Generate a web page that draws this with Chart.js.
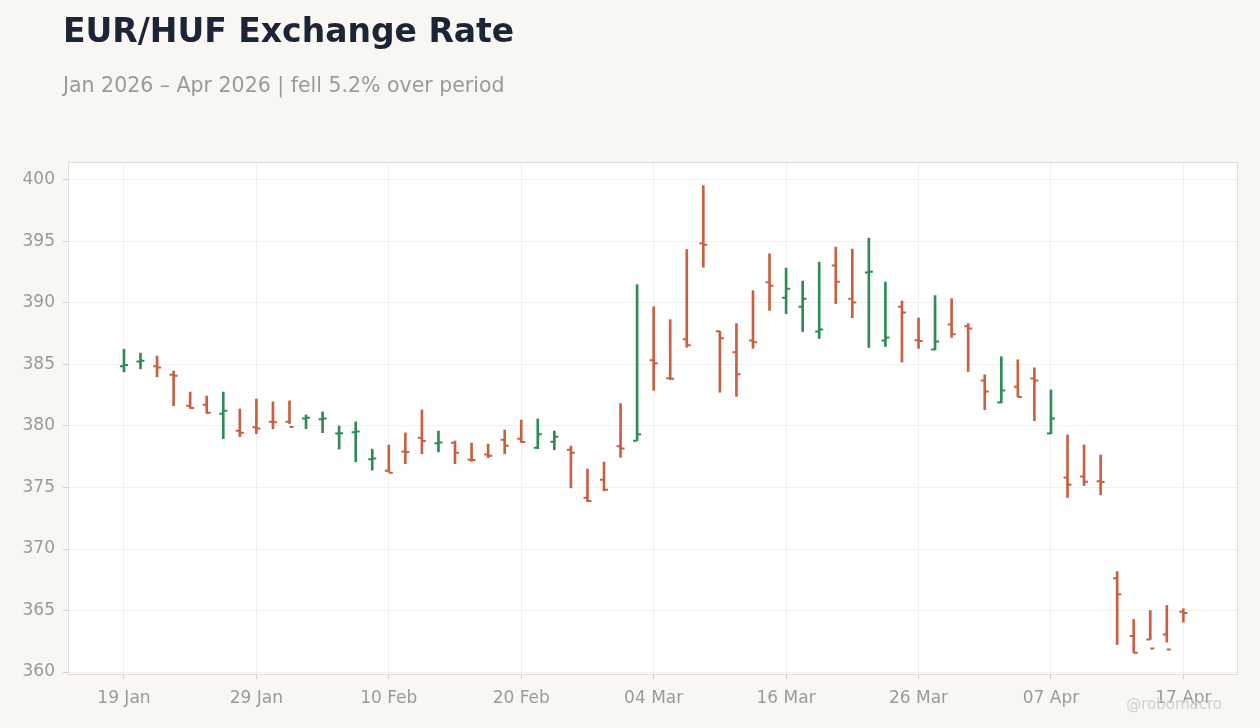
<!DOCTYPE html>
<html>
<head>
<meta charset="utf-8">
<script src="https://cdn.jsdelivr.net/npm/chart.js@4"></script>
<style>
  html, body { margin: 0; padding: 0; background: #f8f7f4; }
  body { width: 1260px; height: 728px; position: relative; overflow: hidden; font-family: "DejaVu Sans", sans-serif; }
  #title { position: absolute; left: 63px; top: 14px; font-size: 33px; line-height: 1; font-weight: bold; color: #1c2536; white-space: nowrap; }
  #subtitle { position: absolute; left: 63px; top: 75px; font-size: 20.5px; line-height: 1; color: #9a9a9a; white-space: nowrap; }
  #mark { position: absolute; right: 38px; top: 697px; font-size: 15px; line-height: 1; color: #cfcfcf; }
  #wrap { position: absolute; left: 0; top: 0; width: 1260px; height: 728px; }
</style>
</head>
<body>
<div id="wrap"><canvas id="myChart"></canvas></div>
<div id="title">EUR/HUF Exchange Rate</div>
<div id="subtitle">Jan 2026 – Apr 2026 | fell 5.2% over period</div>
<div id="mark">@robomacro</div>
<script>
const dates = [
  '19 Jan','20 Jan','21 Jan','22 Jan','23 Jan','26 Jan','27 Jan','28 Jan','29 Jan','30 Jan',
  '02 Feb','03 Feb','04 Feb','05 Feb','06 Feb','09 Feb','10 Feb','11 Feb','12 Feb','13 Feb',
  '16 Feb','17 Feb','18 Feb','19 Feb','20 Feb','23 Feb','24 Feb','25 Feb','26 Feb','27 Feb',
  '02 Mar','03 Mar','04 Mar','05 Mar','06 Mar','09 Mar','10 Mar','11 Mar','12 Mar','13 Mar',
  '16 Mar','17 Mar','18 Mar','19 Mar','20 Mar','23 Mar','24 Mar','25 Mar','26 Mar','27 Mar',
  '30 Mar','31 Mar','01 Apr','02 Apr','03 Apr','06 Apr','07 Apr','08 Apr','09 Apr','10 Apr',
  '13 Apr','14 Apr','15 Apr','16 Apr','17 Apr'
];
const open = [
  384.85, 385.25, 384.85, 384.16, 381.65, 381.73, 381.00, 379.62, 379.90, 380.35,
  380.35, 380.60, 380.55, 379.38, 379.50, 377.30, 376.36, 377.92, 379.05, 378.60,
  378.64, 377.26, 377.69, 378.89, 378.97, 378.23, 378.72, 378.07, 374.16, 375.63,
  378.35, 378.81, 385.34, 383.88, 387.05, 394.85, 387.70, 385.99, 386.96, 391.68,
  390.43, 389.70, 387.68, 393.05, 390.35, 392.48, 386.95, 389.70, 386.97, 386.22,
  388.26, 388.10, 383.70, 381.90, 383.20, 383.86, 379.38, 375.81, 375.89, 375.50,
  367.62, 362.92, 362.65, 363.05, 364.90
];
const high = [
  386.24, 385.92, 385.68, 384.46, 382.76, 382.43, 382.76, 381.38, 382.19, 381.96,
  382.04, 380.90, 381.14, 380.00, 380.33, 378.12, 378.45, 379.43, 381.30, 379.59,
  378.78, 378.61, 378.53, 379.67, 380.49, 380.57, 379.59, 378.37, 376.50, 377.07,
  381.82, 391.49, 389.70, 388.64, 394.34, 399.54, 387.70, 388.32, 391.00, 394.00,
  392.84, 391.78, 393.32, 394.54, 394.38, 395.27, 391.70, 390.16, 388.78, 390.60,
  390.35, 388.32, 384.16, 385.63, 385.38, 384.73, 382.93, 379.27, 378.46, 377.65,
  368.16, 364.27, 365.00, 365.41, 365.14
];
const low = [
  384.40, 384.65, 384.00, 381.65, 381.43, 381.03, 378.97, 379.14, 379.38, 379.77,
  380.20, 379.78, 379.46, 378.12, 377.09, 376.41, 376.25, 376.93, 377.74, 377.90,
  376.93, 377.12, 377.42, 377.74, 378.67, 378.15, 378.07, 374.97, 373.86, 374.73,
  377.45, 378.81, 382.90, 383.77, 386.40, 392.90, 382.74, 382.41, 386.31, 389.39,
  389.14, 387.68, 387.11, 389.95, 388.81, 386.38, 386.46, 385.20, 386.30, 386.20,
  387.20, 384.43, 381.33, 381.88, 382.36, 380.43, 379.38, 374.19, 375.16, 374.41,
  362.24, 361.57, 362.65, 362.43, 364.05
];
const close = [
  384.95, 385.30, 384.75, 384.08, 381.46, 381.08, 381.24, 379.46, 379.80, 380.30,
  379.92, 380.68, 380.60, 379.42, 379.56, 377.36, 376.20, 377.88, 378.78, 378.66,
  377.83, 377.23, 377.58, 378.40, 378.70, 379.32, 379.13, 377.83, 373.91, 374.81,
  378.18, 379.32, 385.10, 383.85, 386.56, 394.74, 387.13, 384.20, 386.80, 391.41,
  391.16, 390.35, 387.84, 391.73, 390.03, 392.54, 387.19, 389.22, 386.90, 386.87,
  387.45, 387.93, 382.80, 382.88, 382.36, 383.70, 380.60, 375.22, 375.46, 375.45,
  366.32, 361.57, 361.92, 361.84, 364.80
];
const yTicks = [360, 365, 370, 375, 380, 385, 390, 395, 400];
const xTickEvery = 8;

const UP = '#2e8b57';
const DOWN = '#c8603f';
const colors = open.map((o, i) => close[i] >= o ? UP : DOWN);

// white plot area + frame
const plotBg = {
  id: 'plotBg',
  beforeDraw(chart) {
    const a = chart.chartArea, c = chart.ctx;
    c.save();
    c.fillStyle = '#ffffff';
    c.fillRect(a.left, a.top, a.right - a.left, a.bottom - a.top);
    c.restore();
  },
  beforeDatasetsDraw(chart) {
    const a = chart.chartArea, c = chart.ctx;
    c.save();
    c.strokeStyle = '#e2ddd6';
    c.lineWidth = 1;
    c.strokeRect(a.left + 0.5, a.top + 0.5, a.right - a.left - 1, a.bottom - a.top);
    c.restore();
  }
};

// open / close ticks
const ohlcTicks = {
  id: 'ohlcTicks',
  afterDatasetsDraw(chart) {
    const xs = chart.scales.x, ys = chart.scales.y, c = chart.ctx;
    c.save();
    c.lineWidth = 2;
    open.forEach((o, i) => {
      const x = xs.getPixelForValue(i);
      c.strokeStyle = colors[i];
      c.beginPath();
      c.moveTo(x - 4, ys.getPixelForValue(o));
      c.lineTo(x, ys.getPixelForValue(o));
      c.moveTo(x, ys.getPixelForValue(close[i]));
      c.lineTo(x + 4, ys.getPixelForValue(close[i]));
      c.stroke();
    });
    c.restore();
  }
};

document.addEventListener('DOMContentLoaded', function() {
  const ctx = document.getElementById('myChart');
  new Chart(ctx, {
    type: 'bar',
    data: {
      datasets: [{
        label: 'EUR/HUF',
        data: dates.map((d, i) => ({ x: i, y: [low[i], high[i]] })),
        backgroundColor: colors,
        borderWidth: 0,
        barThickness: 2
      }]
    },
    options: {
      responsive: true,
      maintainAspectRatio: false,
      animation: false,
      layout: { padding: { top: 162, right: 22, bottom: 0, left: 0 } },
      plugins: { legend: { display: false }, tooltip: { enabled: false } },
      scales: {
        x: {
          type: 'linear',
          offset: false,
          min: -3.38,
          max: 67.3,
          afterBuildTicks: s => { s.ticks = dates.map((d, i) => i).filter(i => i % xTickEvery === 0).map(v => ({ value: v })); },
          afterFit: s => { s.height = 54; },
          ticks: {
            callback: v => dates[v],
            color: '#9a9a9a',
            font: { family: 'DejaVu Sans', size: 17 },
            padding: 9,
            maxRotation: 0
          },
          grid: { offset: false, color: '#f0f0f0', tickColor: '#d0d0d0', tickLength: 5 },
          border: { display: false }
        },
        y: {
          min: 359.84,
          max: 401.46,
          afterBuildTicks: s => { s.ticks = yTicks.map(v => ({ value: v })); },
          afterFit: s => { s.width = 68; },
          ticks: {
            color: '#9a9a9a',
            font: { family: 'DejaVu Sans', size: 17 },
            padding: 8
          },
          grid: { color: '#f0f0f0', tickColor: '#d0d0d0', tickLength: 5 },
          border: { display: false }
        }
      }
    },
    plugins: [plotBg, ohlcTicks]
  });
});
</script>
</body>
</html>
